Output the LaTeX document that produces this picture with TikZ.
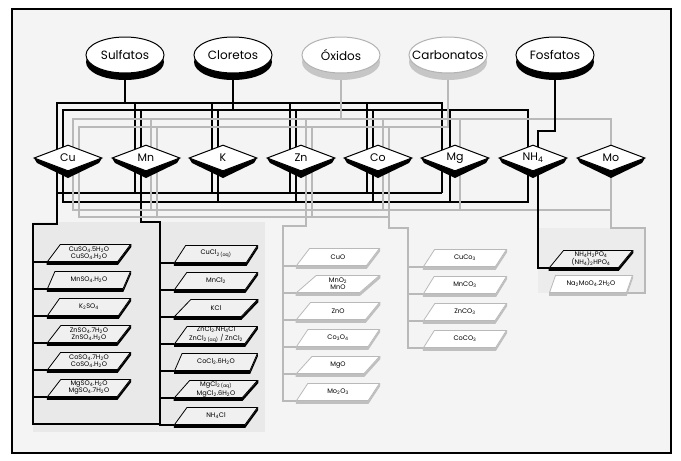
\documentclass[tikz,border=0pt]{standalone}
\usepackage{fontspec}
\setmainfont{Poppins}
\usetikzlibrary{shapes.geometric,calc}
\pgfdeclarelayer{back}
\pgfdeclarelayer{wires}
\pgfdeclarelayer{shade}
\pgfsetlayers{back,wires,shade,main}
\newcommand\ssub[1]{\textsubscript{#1}}
\newcommand\dshade[2]{\fill[#2] (#1-34,158) -- (#1-31,163) -- (#1,178) -- (#1+31,163) -- (#1+34,158) -- (#1,171) -- cycle;}
\newcommand\bshade[2]{\fill[#2] (#1.bottom left corner) -- ($(#1.bottom left corner)+(0,3)$) -- ($(#1.bottom right corner)+(0,3)$) -- ($(#1.top right corner)+(0,3)$) -- (#1.top right corner) -- (#1.bottom right corner) -- cycle;}
\begin{document}
\begin{tikzpicture}[x=1pt,y=-1pt,
 bk/.style={draw=black,line width=1.6pt},
 gy/.style={draw=gray!55,line width=1.6pt},
 cat/.style={ellipse,draw=black,line width=1pt,fill=white,minimum width=78pt,minimum height=36pt,inner sep=0pt,font=\fontsize{12}{13}\selectfont},
 catg/.style={cat,draw=gray!60},
 el/.style={diamond,draw=black,line width=1pt,fill=white,minimum width=68pt,minimum height=26pt,inner sep=0pt,font=\fontsize{11}{12}\selectfont},
 slab/.style={trapezium,trapezium left angle=55,trapezium right angle=125,trapezium stretches=true,minimum width=83pt,minimum height=17pt,inner sep=0pt,align=center,font=\fontsize{6.6}{7}\selectfont,draw=black,line width=0.8pt,fill=gray!12},
 slabg/.style={slab,draw=gray!55,fill=white},
]
\useasboundingbox (0,0) rectangle (681,461);

% categories
\node[cat]  (sulf) at (125,55) {\makebox[0pt]{Sulfatos}};
\node[cat]  (clor) at (233,55) {\makebox[0pt]{Cloretos}};
\node[catg] (oxid) at (341,55) {\makebox[0pt]{Óxidos}};
\node[catg] (carb) at (448,55) {\makebox[0pt]{Carbonatos}};
\node[cat]  (fosf) at (555,55) {\makebox[0pt]{Fosfatos}};

% elements
\node[el] (cu) at (68,158)  {\makebox[0pt]{Cu}};
\node[el] (mn) at (146,158) {\makebox[0pt]{Mn}};
\node[el] (k)  at (223,158) {\makebox[0pt]{K}};
\node[el] (zn) at (301,158) {\makebox[0pt]{Zn}};
\node[el] (co) at (378,158) {\makebox[0pt]{Co}};
\node[el] (mg) at (455,158) {\makebox[0pt]{Mg}};
\node[el] (nh) at (533,158) {\makebox[0pt]{NH\ssub{4}}};
\node[el] (mo) at (611,158) {\makebox[0pt]{Mo}};

% sulfatos column
\node[slab] (s1) at (89,253) {CuSO\ssub{4}.5H\ssub{2}O\\CuSO\ssub{4}.H\ssub{2}O};
\node[slab] (s2) at (89,280) {MnSO\ssub{4}.H\ssub{2}O};
\node[slab] (s3) at (89,307) {K\ssub{2}SO\ssub{4}};
\node[slab] (s4) at (89,334) {ZnSO\ssub{4}.7H\ssub{2}O\\ZnSO\ssub{4}.H\ssub{2}O};
\node[slab] (s5) at (89,361) {CoSO\ssub{4}.7H\ssub{2}O\\CoSO\ssub{4}.H\ssub{2}O};
\node[slab] (s6) at (89,388) {MgSO\ssub{4}.H\ssub{2}O\\MgSO\ssub{4}.7H\ssub{2}O};
% cloretos column
\node[slab] (c1) at (216,254) {CuCl\ssub{2 (aq)}};
\node[slab] (c2) at (216,281) {MnCl\ssub{2}};
\node[slab] (c3) at (216,308) {KCl};
\node[slab] (c4) at (216,335) {ZnCl\ssub{2}.NH\ssub{4}Cl\\ZnCl\ssub{2 (aq)} / ZnCl\ssub{2}};
\node[slab] (c5) at (216,362) {CoCl\ssub{2}.6H\ssub{2}O};
\node[slab] (c6) at (216,389) {MgCl\ssub{2 (aq)}\\MgCl\ssub{2}.6H\ssub{2}O};
\node[slab] (c7) at (216,416) {NH\ssub{4}Cl};
% oxidos column
\node[slabg] (o1) at (338,257) {CuO};
\node[slabg] (o2) at (338,284) {MnO\ssub{2}\\MnO};
\node[slabg] (o3) at (338,311) {ZnO};
\node[slabg] (o4) at (338,338) {Co\ssub{3}O\ssub{4}};
\node[slabg] (o5) at (338,365) {MgO};
\node[slabg] (o6) at (338,392) {Mo\ssub{2}O\ssub{3}};
% carbonatos column
\node[slabg] (k1) at (465,258) {CuCo\ssub{3}};
\node[slabg] (k2) at (465,285) {MnCO\ssub{3}};
\node[slabg] (k3) at (465,312) {ZnCO\ssub{3}};
\node[slabg] (k4) at (465,339) {CoCO\ssub{3}};
% fosfatos column
\node[slab] (f1) at (591,259) {NH\ssub{4}H\ssub{2}PO\ssub{4}\\(NH\ssub{4})\ssub{2}HPO\ssub{4}};
\node[slabg] (f2) at (591,284) {Na\ssub{2}MoO\ssub{4}.2H\ssub{2}O};

\begin{pgfonlayer}{back}
 \fill[white] (0,0) rectangle (681,461);
 \fill[gray!9] (12,9) rectangle (671,453);
 \fill[gray!17] (33,222) rectangle (265,432);
 \fill[gray!15] (538,228) rectangle (645,293);
 \draw[line width=1.3pt] (12,9) rectangle (671,453);
\end{pgfonlayer}

\begin{pgfonlayer}{shade}
 \fill[black] (125,62) ellipse [x radius=39pt, y radius=18pt];
 \fill[black] (233,62) ellipse [x radius=39pt, y radius=18pt];
 \fill[gray!45] (341,62) ellipse [x radius=39pt, y radius=18pt];
 \fill[gray!45] (448,62) ellipse [x radius=39pt, y radius=18pt];
 \fill[black] (555,62) ellipse [x radius=39pt, y radius=18pt];
 \foreach \x in {68,146,223,301,378,455,533,611} {\dshade{\x}{black}}
 \foreach \n in {s1,s2,s3,s4,s5,s6,c1,c2,c3,c4,c5,c6,c7,f1} {\bshade{\n}{black}}
 \foreach \n in {o1,o2,o3,o4,o5,o6,k1,k2,k3,k4,f2} {\bshade{\n}{gray!50}}
\end{pgfonlayer}

\begin{pgfonlayer}{wires}
 % top: sulfatos
 \draw[bk] (sulf.south) -- (125,103);
 \draw[bk] (57,0 |- cu) -- (57,103) -- (442,103) -- (442,0 |- mg);
 \foreach \x in {135,212,290,367} {\draw[bk] (\x,103) -- (\x,158);}
 % top: cloretos
 \draw[bk] (clor.south) -- (233,110);
 \draw[bk] (63,0 |- cu) -- (63,110) -- (528,110) -- (528,0 |- nh);
 \foreach \x in {141,218,296,373,450} {\draw[bk] (\x,110) -- (\x,158);}
 % top: oxidos
 \draw[gy] (oxid.south) -- (341,119);
 \draw[gy] (73,0 |- cu) -- (73,119) -- (611,119) -- (611,0 |- mo);
 \foreach \x in {151,306,383,460} {\draw[gy] (\x,119) -- (\x,158);}
 % top: carbonatos
 \draw[gy] (carb.south) -- (448,127) -- (79,127) -- (79,0 |- cu);
 \foreach \x in {157,312,389} {\draw[gy] (\x,127) -- (\x,158);}
 % top: fosfatos
 \draw[bk] (fosf.south) -- (555,131) -- (538,131) -- (538,0 |- nh);

 % bottom: sulfatos
 \draw[bk] (57,0 |- cu) -- (57,224) -- (33,224) -- (33,424) -- (160,424);
 \draw[bk] (57,193) -- (442,193);
 \foreach \x in {135,212,290,367,442} {\draw[bk] (\x,158) -- (\x,193);}
 \foreach \i in {1,...,6} {\draw[bk] (33,0 |- s\i.bottom left corner) -- (s\i.bottom left corner);}
 % bottom: cloretos
 \draw[bk] (141,0 |- mn) -- (141,222) -- (160,222) -- (160,0 |- c7.bottom left corner) -- (c7.bottom left corner);
 \draw[bk] (63,158) -- (63,202) -- (528,202) -- (528,158);
 \foreach \x in {218,296,373,450} {\draw[bk] (\x,158) -- (\x,202);}
 \foreach \i in {1,...,6} {\draw[bk] (160,0 |- c\i.bottom left corner) -- (c\i.bottom left corner);}
 % bottom: oxidos
 \draw[gy] (306,0 |- zn) -- (306,226) -- (283,226) -- (283,0 |- o6.bottom left corner) -- (o6.bottom left corner);
 \draw[gy] (73,158) -- (73,210) -- (611,210);
 \foreach \x in {151,383,460} {\draw[gy] (\x,158) -- (\x,210);}
 \foreach \i in {1,...,5} {\draw[gy] (283,0 |- o\i.bottom left corner) -- (o\i.bottom left corner);}
 \draw[gy] (611,0 |- mo) -- (611,228) -- (645,228) -- (645,0 |- f2.bottom right corner) -- (f2.bottom right corner);
 % bottom: carbonatos
 \draw[gy] (389,0 |- co) -- (389,228) -- (408,228) -- (408,0 |- k4.bottom left corner) -- (k4.bottom left corner);
 \draw[gy] (79,158) -- (79,217) -- (389,217);
 \foreach \x in {157,312} {\draw[gy] (\x,158) -- (\x,217);}
 \foreach \i in {1,...,3} {\draw[gy] (408,0 |- k\i.bottom left corner) -- (k\i.bottom left corner);}
 % bottom: NH4 -> fosfatos
 \draw[bk] (538,0 |- nh) -- (538,0 |- f1.bottom left corner) -- (f1.bottom left corner);
\end{pgfonlayer}
\end{tikzpicture}
\end{document}
